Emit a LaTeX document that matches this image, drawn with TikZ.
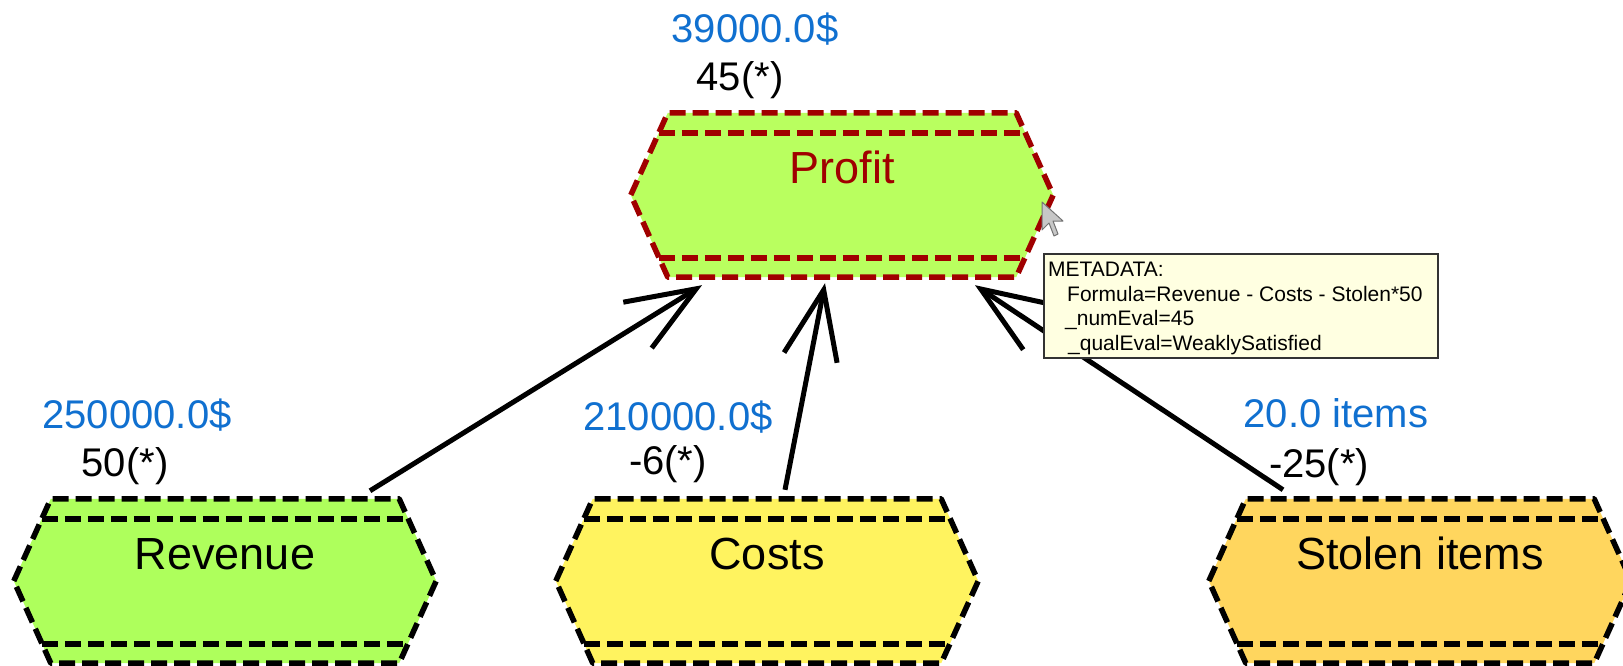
\documentclass[tikz,border=0pt]{standalone}
\usepackage{fontspec}
\setmainfont{Liberation Sans}
\usetikzlibrary{arrows.meta}
\definecolor{profitfill}{RGB}{185,255,95}
\definecolor{revfill}{RGB}{174,255,92}
\definecolor{costfill}{RGB}{255,243,95}
\definecolor{stolfill}{RGB}{255,214,94}
\definecolor{valblue}{RGB}{16,112,208}
\definecolor{darkred}{RGB}{160,0,0}
\definecolor{tipfill}{RGB}{255,255,225}
\tikzset{
  hexb/.style={rectangle, minimum width=422pt, minimum height=164pt, inner sep=0pt, draw=none},
  dashb/.style={line width=5.5pt, dash pattern=on 16pt off 7pt, line join=round},
  nodetext/.style={anchor=base, inner sep=0pt, font=\fontsize{45}{54}\selectfont},
  valtext/.style={anchor=base, inner sep=0pt, text=valblue, font=\fontsize{40}{48}\selectfont},
  evaltext/.style={anchor=base, inner sep=0pt, text=black, font=\fontsize{40}{48}\selectfont},
  tiptext/.style={anchor=base west, inner sep=0pt, font=\fontsize{21}{25}\selectfont},
  arr/.style={line width=5pt, -{Straight Barb[length=69pt, width=54pt]}},
}
\newcommand\HexNode[6]{%
  \node[hexb] (#1) at (#2,#3) {};
  \fill[#4] (#1.west) -- ([xshift=37pt]#1.north west) -- ([xshift=-37pt]#1.north east) -- (#1.east)
    -- ([xshift=-37pt]#1.south east) -- ([xshift=37pt]#1.south west) -- cycle;
  \draw[dashb, draw=#5] (#1.west) -- ([xshift=37pt]#1.north west) -- ([xshift=-37pt]#1.north east) -- (#1.east)
    -- ([xshift=-37pt]#1.south east) -- ([xshift=37pt]#1.south west) -- cycle;
  \draw[dashb, draw=#5] ([xshift=28pt,yshift=-20pt]#1.north west) -- ([xshift=-28pt,yshift=-20pt]#1.north east);
  \draw[dashb, draw=#5] ([xshift=28pt,yshift=19pt]#1.south west) -- ([xshift=-28pt,yshift=19pt]#1.south east);
  \node[nodetext, text=#5] (#1-t) at ([yshift=-71pt]#1.north) {#6};
}
\begin{document}
\begin{tikzpicture}[x=1pt, y=-1pt]
\useasboundingbox (0,0) rectangle (1623,666);
\fill[white] (0,0) rectangle (1623,666);
\clip (0,0) rectangle (1623,666);

\HexNode{profit}{842}{195}{profitfill}{darkred}{Profit}
\HexNode{rev}{225}{581}{revfill}{black}{Revenue}
\HexNode{cost}{767}{581}{costfill}{black}{Costs}
\HexNode{stol}{1420}{581}{stolfill}{black}{Stolen items}

\node[valtext] (pv) at (755,43) {39000.0\$};
\node[evaltext] (pe) at (740,91) {45(*)};
\node[valtext] (rv) at (137,428) {250000.0\$};
\node[evaltext] (re) at (125,476) {50(*)};
\node[valtext] (cv) at (678,430) {210000.0\$};
\node[evaltext] (ce) at (668,474) {-6(*)};
\node[valtext] (sv) at (1336,427) {20.0 items};
\node[evaltext] (se) at (1319,477) {-25(*)};

\coordinate (rs) at ([xshift=145pt,yshift=8pt]rev.north);
\coordinate (re1) at ([xshift=-140pt,yshift=-8pt]profit.south);
\coordinate (cs) at ([xshift=18pt,yshift=9pt]cost.north);
\coordinate (ce1) at ([xshift=-17pt,yshift=-6pt]profit.south);
\coordinate (ss) at ([xshift=-137pt,yshift=9pt]stol.north);
\coordinate (se1) at ([xshift=133pt,yshift=-8pt]profit.south);
\draw[arr] (rs) -- (re1);
\draw[arr] (cs) -- (ce1);
\draw[arr] (ss) -- (se1);

% tooltip
\node[draw=black!80, line width=1.5pt, fill=tipfill, minimum width=394pt, minimum height=104pt, inner sep=0pt, anchor=north west] (tip) at (1043,253) {};
\node[tiptext] (t1) at (1048,276) {METADATA:};
\node[tiptext] (t2) at (1067,301) {Formula=Revenue - Costs - Stolen*50};
\node[tiptext] (t3) at (1065,325) {\_numEval=45};
\node[tiptext] (t4) at (1068,350) {\_qualEval=WeaklySatisfied};

% mouse cursor
\filldraw[fill=black!22, draw=black!55, line width=1pt, line join=round]
  (1042,202) -- (1042,230) -- (1049,223) -- (1054,236) -- (1058,234) -- (1053,221) -- (1063,221) -- cycle;
\end{tikzpicture}
\end{document}
